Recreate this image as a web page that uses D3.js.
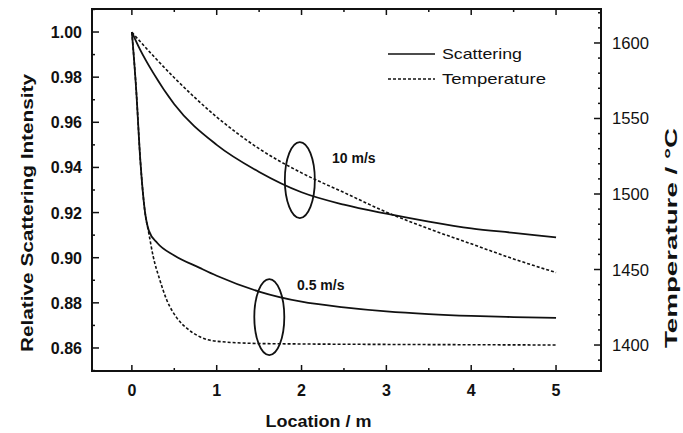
<!DOCTYPE html>
<html>
<head>
<meta charset="utf-8">
<script src="https://cdn.jsdelivr.net/npm/d3@7"></script>
<style>
  body { margin: 0; background: #fff; }
  text { font-family: "Liberation Sans", Arial, sans-serif; fill: #111; }
</style>
</head>
<body>
<svg id="chart" width="683" height="433"></svg>
<script>
// 10 m/s
const scat10Loc = [0, 0.1, 0.25, 0.5, 1.0, 1.5, 2, 2.5, 3, 3.5, 4, 4.5, 5];
const scat10Val = [1.000, 0.992, 0.982, 0.968, 0.950, 0.938, 0.929, 0.9235, 0.9195, 0.916, 0.913, 0.911, 0.909];
const temp10Loc = [0, 0.5, 1, 1.5, 2, 2.5, 3, 3.5, 4, 4.5, 5];
const temp10Val = [1607, 1577, 1551, 1530, 1514, 1501, 1488, 1477, 1467, 1457, 1448];
// 0.5 m/s
const scat05Loc = [0, 0.05, 0.1, 0.15, 0.2, 0.3, 0.5, 0.8, 1, 1.5, 2, 2.5, 3, 3.5, 4, 4.5, 5];
const scat05Val = [1.000, 0.975, 0.943, 0.9216, 0.912, 0.9065, 0.901, 0.8955, 0.892, 0.885, 0.8805, 0.878, 0.8762, 0.875, 0.8742, 0.8737, 0.8733];
const temp05Loc = [0, 0.05, 0.1, 0.15, 0.2, 0.25, 0.33, 0.41, 0.53, 0.65, 0.8, 1, 1.5, 2, 3, 4, 5];
const temp05Val = [1607, 1570, 1522, 1490, 1474, 1459, 1443, 1430, 1418, 1411, 1405.5, 1402.5, 1401, 1400.7, 1400.4, 1400.2, 1400];

const xTicks = [0, 1, 2, 3, 4, 5];
const yLeftTicks = [0.86, 0.88, 0.90, 0.92, 0.94, 0.96, 0.98, 1.00];
const yRightTicks = [1400, 1450, 1500, 1550, 1600];
const legendNames = ["Scattering", "Temperature"];
const speedNotes = [
    { text: "10 m/s", loc: 1.98, val: 0.9344 },
    { text: "0.5 m/s", loc: 1.62, val: 0.8737 }
];

const svg = d3.select("#chart");
const margin = { top: 9, right: 82, bottom: 62, left: 92 },
    width = 683 - margin.left - margin.right,
    height = 433 - margin.top - margin.bottom;

const x = d3.scaleLinear().domain([-0.47, 5.53]).range([0, width]);
const yL = d3.scaleLinear().domain([0.8498, 1.0102]).range([height, 0]);
const yR = d3.scaleLinear().domain([1382.8, 1622.5]).range([height, 0]);

const g = svg.append("g").attr("transform", `translate(${margin.left},${margin.top})`);

// frame
g.append("rect")
    .attr("width", width).attr("height", height)
    .attr("fill", "none").attr("stroke", "#111").attr("stroke-width", 2);

// ticks (all pointing inward)
const xMinor = d3.range(0.5, 5, 1);
const yLMinor = d3.range(0.85, 1.01, 0.01).filter(v => Math.abs(Math.round(v * 100) % 2) === 1);
const yRMinor = d3.range(1390, 1621, 10).filter(v => v % 50 !== 0);

// bottom and top
[[height, -1], [0, 1]].forEach(([y0, dir]) => {
    g.append("g").selectAll("line").data(xTicks.map(v => [v, 6]).concat(xMinor.map(v => [v, 3])))
        .enter().append("line")
        .attr("x1", d => x(d[0])).attr("x2", d => x(d[0]))
        .attr("y1", y0).attr("y2", d => y0 + dir * d[1])
        .attr("stroke", "#111").attr("stroke-width", 1.5);
});
// left
g.append("g").selectAll("line").data(yLeftTicks.map(v => [v, 7]).concat(yLMinor.map(v => [v, 3])))
    .enter().append("line")
    .attr("x1", 0).attr("x2", d => d[1])
    .attr("y1", d => yL(d[0])).attr("y2", d => yL(d[0]))
    .attr("stroke", "#111").attr("stroke-width", 1.5);
// right
g.append("g").selectAll("line").data(yRightTicks.map(v => [v, 7]).concat(yRMinor.map(v => [v, 3])))
    .enter().append("line")
    .attr("x1", width).attr("x2", d => width - d[1])
    .attr("y1", d => yR(d[0])).attr("y2", d => yR(d[0]))
    .attr("stroke", "#111").attr("stroke-width", 1.5);

// tick labels
g.selectAll(".xl").data(xTicks).enter().append("text")
    .attr("x", d => x(d)).attr("y", height + 25)
    .attr("text-anchor", "middle").style("font-size", "16px").style("font-weight", "bold")
    .text(d => d);
g.selectAll(".yl").data(yLeftTicks).enter().append("text")
    .attr("x", -10).attr("y", d => yL(d) + 6)
    .attr("text-anchor", "end").style("font-size", "16px").style("font-weight", "bold")
    .text(d => d3.format(".2f")(d));
g.selectAll(".yr").data(yRightTicks).enter().append("text")
    .attr("x", width + 11).attr("y", d => yR(d) + 6)
    .attr("text-anchor", "start").style("font-size", "16px")
    .attr("textLength", 37).attr("lengthAdjust", "spacingAndGlyphs")
    .text(d => d);

// axis titles
g.append("text")
    .attr("text-anchor", "middle")
    .attr("x", x(2.2)).attr("y", height + 56)
    .style("font-size", "17px").style("font-weight", "bold")
    .attr("textLength", 106).attr("lengthAdjust", "spacingAndGlyphs")
    .text("Location / m");
g.append("text")
    .attr("text-anchor", "middle")
    .attr("transform", "rotate(-90)")
    .attr("x", -(213 - margin.top)).attr("y", 33 - margin.left)
    .style("font-size", "17px").style("font-weight", "bold")
    .attr("textLength", 278).attr("lengthAdjust", "spacingAndGlyphs")
    .text("Relative Scattering Intensity");
g.append("text")
    .attr("text-anchor", "middle")
    .attr("transform", "rotate(-90)")
    .attr("x", -(238 - margin.top)).attr("y", 677 - margin.left)
    .style("font-size", "17px").style("font-weight", "bold")
    .attr("textLength", 220).attr("lengthAdjust", "spacingAndGlyphs")
    .text("Temperature / \u00B0C");

// curves
const lineL = d3.line().x(d => x(d[0])).y(d => yL(d[1])).curve(d3.curveMonotoneX);
const lineR = d3.line().x(d => x(d[0])).y(d => yR(d[1])).curve(d3.curveMonotoneX);

function plot(locs, vals, gen, dashed) {
    g.append("path")
        .datum(d3.zip(locs, vals))
        .attr("d", gen)
        .attr("fill", "none")
        .attr("stroke", "#111")
        .attr("stroke-width", dashed ? 1.6 : 1.8)
        .attr("stroke-dasharray", dashed ? "3,2" : null);
}
plot(scat10Loc, scat10Val, lineL, false);
plot(temp10Loc, temp10Val, lineR, true);
plot(scat05Loc, scat05Val, lineL, false);
plot(temp05Loc, temp05Val, lineR, true);

// ellipses and speed notes
g.selectAll(".ring").data(speedNotes).enter().append("ellipse")
    .attr("cx", d => x(d.loc)).attr("cy", d => yL(d.val))
    .attr("rx", 15).attr("ry", 38)
    .attr("fill", "none").attr("stroke", "#111").attr("stroke-width", 1.8);
g.append("text").attr("x", 332 - margin.left).attr("y", 163 - margin.top)
    .style("font-size", "14px").style("font-weight", "bold").text(speedNotes[0].text);
g.append("text").attr("x", 297 - margin.left).attr("y", 290 - margin.top)
    .style("font-size", "14px").style("font-weight", "bold").text(speedNotes[1].text);

// legend
const leg = svg.append("g").attr("transform", "translate(388,54)");
legendNames.forEach((name, i) => {
    leg.append("line")
        .attr("x1", 0).attr("x2", 47).attr("y1", i * 25).attr("y2", i * 25)
        .attr("stroke", "#111").attr("stroke-width", 1.6)
        .attr("stroke-dasharray", i ? "3,2" : null);
    leg.append("text")
        .attr("x", 54).attr("y", i * 25 + 5)
        .style("font-size", "15px")
        .attr("textLength", i ? 104 : 80).attr("lengthAdjust", "spacingAndGlyphs")
        .text(name);
});
</script>
</body>
</html>
